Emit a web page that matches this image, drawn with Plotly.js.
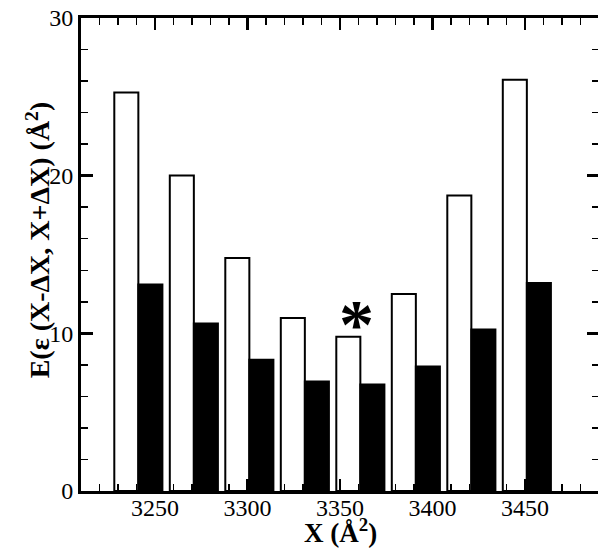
<!DOCTYPE html>
<html>
<head>
<meta charset="utf-8">
<script src="https://cdn.plot.ly/plotly-3.0.1.min.js"></script>
<style>
html, body { margin: 0; padding: 0; overflow: hidden; background: #fff; }
#chart { width: 609px; height: 548px; }
</style>
</head>
<body>
<div id="chart"></div>
<script>
// Bin centres (Å^2)
var binCenters = [3241, 3271, 3301, 3331, 3361, 3391, 3421, 3451];
// Open bars
var openValues = [25.27, 20.01, 14.78, 10.98, 9.79, 12.5, 18.74, 26.08];
// Filled bars
var filledValues = [13.09, 10.62, 8.33, 6.94, 6.75, 7.89, 10.24, 13.2];
// Marked bin (asterisk)
var markX = 3359;
var markY = 11.15;

var xTickVals = [3250, 3300, 3350, 3400, 3450];
var xTickText = ['3250', '3300', '3350', '3400', '3450'];
var yTickVals = [0, 10, 20, 30];
var yTickText = ['0', '10', '20', '30'];

var xTitle = '<b>X (Å<sup>2</sup>)</b>';
var yTitle = '<b>E(ε (X-ΔX, X+ΔX) (Å<sup>2</sup>)</b>';

var serif = "'Liberation Serif', 'Times New Roman', Times, serif";

var traces = [
  {
    type: 'bar', x: binCenters, y: openValues,
    marker: { color: '#ffffff', line: { color: '#000000', width: 2 } },
    hoverinfo: 'skip', showlegend: false
  },
  {
    type: 'bar', x: binCenters, y: filledValues,
    marker: { color: '#000000', line: { color: '#000000', width: 2 } },
    hoverinfo: 'skip', showlegend: false
  }
];

var axisCommon = {
  showgrid: false, zeroline: false,
  showline: true, linecolor: '#000', linewidth: 3,
  mirror: 'ticks',
  ticks: 'inside', ticklen: 12, tickwidth: 2.5, tickcolor: '#000',
  tickfont: { family: serif, size: 24, color: '#000' }
};

var layout = {
  width: 609, height: 548,
  margin: { l: 81, r: 10, t: 18, b: 57 },
  paper_bgcolor: '#fff', plot_bgcolor: '#fff',
  barmode: 'group', bargap: 4 / 30, bargroupgap: 0,
  showlegend: false,
  font: { family: serif, color: '#000' },
  xaxis: Object.assign({}, axisCommon, {
    range: [3210, 3490],
    tickmode: 'array', tickvals: xTickVals, ticktext: xTickText,
    ticklabelstandoff: -7,
    minor: { ticks: 'inside', ticklen: 7, tickwidth: 1.5, tickcolor: '#000', dtick: 10, tick0: 3210, showgrid: false }
  }),
  yaxis: Object.assign({}, axisCommon, {
    range: [0, 30],
    tickmode: 'array', tickvals: yTickVals, ticktext: yTickText,
    minor: { ticks: 'inside', ticklen: 7, tickwidth: 1.5, tickcolor: '#000', dtick: 2, tick0: 0, showgrid: false }
  }),
  annotations: [
    {
      x: 0.5, y: -0.0855, xref: 'paper', yref: 'paper',
      text: xTitle, showarrow: false,
      font: { family: serif, size: 27, color: '#000' },
      xanchor: 'center', yanchor: 'middle'
    },
    {
      x: -0.083, y: 0.53, xref: 'paper', yref: 'paper',
      text: yTitle, textangle: -90, showarrow: false,
      font: { family: serif, size: 28, color: '#000' },
      xanchor: 'center', yanchor: 'middle'
    },
    {
      x: markX, y: markY, xref: 'x', yref: 'y',
      text: '<b>*</b>', showarrow: false, yshift: -9,
      font: { family: serif, size: 70, color: '#000' },
      xanchor: 'center', yanchor: 'middle'
    }
  ]
};

Plotly.newPlot('chart', traces, layout, { displayModeBar: false, staticPlot: true });
</script>
</body>
</html>
